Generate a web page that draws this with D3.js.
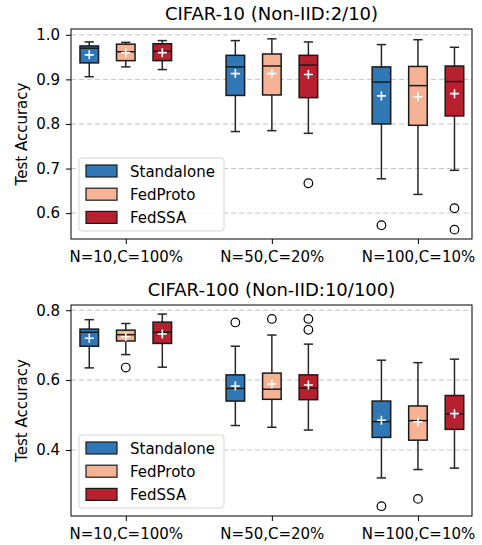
<!DOCTYPE html>
<html lang="en">
  <head>
    <meta charset="utf-8">
    <title>test accuracy boxplots</title>
    <script type="text/javascript" src="https://d3js.org/d3.v7.min.js"></script>
    <style>
      body { margin: 0; background: #fff; }
      text { font-family: "DejaVu Sans", sans-serif; fill: #000; }
      .title { font-size: 18px; }
      .ylabel { font-size: 15px; }
      .legend text { font-size: 15px; }
    </style>
  </head>
  <body>
    <svg id="chart"></svg>
    <script type="text/javascript">

    // DATA
    const groups = ['N=10,C=100%', 'N=50,C=20%', 'N=100,C=10%'];
    const methods = ['Standalone', 'FedProto', 'FedSSA'];
    const colors = ['#2f78b5', '#f6b295', '#b6202f'];

    // one row per method, one entry per group: [whiskerLow, q1, median, q3, whiskerHigh, mean]
    const c10Boxes = [
      [[0.906, 0.937, 0.970, 0.975, 0.984, 0.955], [0.783, 0.864, 0.928, 0.954, 0.987, 0.913], [0.677, 0.800, 0.894, 0.928, 0.978, 0.863]],
      [[0.928, 0.942, 0.962, 0.979, 0.983, 0.960], [0.785, 0.865, 0.930, 0.957, 0.991, 0.913], [0.642, 0.797, 0.886, 0.929, 0.989, 0.861]],
      [[0.922, 0.942, 0.963, 0.980, 0.987, 0.960], [0.779, 0.859, 0.932, 0.954, 0.984, 0.911], [0.696, 0.818, 0.895, 0.930, 0.972, 0.868]]
    ];
    const c10Outliers = [
      [[], [], [0.573]],
      [[], [], []],
      [[], [0.667], [0.611, 0.563]]
    ];

    const c100Boxes = [
      [[0.635, 0.697, 0.737, 0.746, 0.773, 0.720], [0.470, 0.540, 0.576, 0.615, 0.697, 0.583], [0.320, 0.436, 0.481, 0.540, 0.657, 0.485]],
      [[0.673, 0.712, 0.730, 0.743, 0.762, 0.724], [0.465, 0.545, 0.574, 0.620, 0.729, 0.589], [0.344, 0.428, 0.484, 0.526, 0.650, 0.481]],
      [[0.637, 0.705, 0.737, 0.766, 0.789, 0.732], [0.457, 0.544, 0.577, 0.615, 0.703, 0.586], [0.348, 0.459, 0.503, 0.556, 0.660, 0.504]]
    ];
    const c100Outliers = [
      [[], [0.765], [0.239]],
      [[0.636], [0.775], [0.260]],
      [[], [0.775, 0.744], []]
    ];

    const c10Ticks = [0.6, 0.7, 0.8, 0.9, 1.0];
    const c100Ticks = [0.4, 0.6, 0.8];


    // DIMENSIONS

    const width = 482, height = 545;
    const svg = d3.select('#chart').attr('width', width).attr('height', height);

    const plotX = {left: 71, right: 472};
    const offset = 0.25;   // method offset inside a group
    const boxW = 0.127;    // box width in group units

    const x = d3.scaleLinear().domain([-0.375, 2.37]).range([plotX.left, plotX.right]);


    function drawPanel(cfg) {
      const y = d3.scaleLinear().domain(cfg.ydomain).range([cfg.bottom, cfg.top]);
      const g = svg.append('g');

      // grid
      g.append('g').selectAll('line')
        .data(cfg.ticks)
        .join('line')
        .attr('x1', plotX.left).attr('x2', plotX.right)
        .attr('y1', d => y(d)).attr('y2', d => y(d))
        .attr('stroke', '#c4c4c4')
        .attr('stroke-width', 1)
        .attr('stroke-dasharray', '5,3');

      // flatten boxes
      const rows = [];
      cfg.boxes.forEach((row, m) => row.forEach((b, gi) => rows.push({
        m: m, gi: gi, lo: b[0], q1: b[1], med: b[2], q3: b[3], hi: b[4], mean: b[5],
        out: cfg.outliers[m][gi], cx: x(gi + (m - 1) * offset)
      })));
      const half = (x(boxW) - x(0)) / 2;

      const bx = g.append('g').selectAll('g').data(rows).join('g');

      // whiskers
      bx.append('line')
        .attr('x1', d => d.cx).attr('x2', d => d.cx)
        .attr('y1', d => y(d.hi)).attr('y2', d => y(d.q3));
      bx.append('line')
        .attr('x1', d => d.cx).attr('x2', d => d.cx)
        .attr('y1', d => y(d.q1)).attr('y2', d => y(d.lo));
      bx.append('line')
        .attr('x1', d => d.cx - half / 2).attr('x2', d => d.cx + half / 2)
        .attr('y1', d => y(d.hi)).attr('y2', d => y(d.hi));
      bx.append('line')
        .attr('x1', d => d.cx - half / 2).attr('x2', d => d.cx + half / 2)
        .attr('y1', d => y(d.lo)).attr('y2', d => y(d.lo));
      bx.selectAll('line')
        .attr('stroke', '#262626')
        .attr('stroke-width', 1.5);

      // box
      bx.append('rect')
        .attr('x', d => d.cx - half)
        .attr('width', half * 2)
        .attr('y', d => y(d.q3))
        .attr('height', d => y(d.q1) - y(d.q3))
        .attr('fill', d => colors[d.m])
        .attr('stroke', '#1a1a1a')
        .attr('stroke-width', 1.5);

      // median
      bx.append('line')
        .attr('x1', d => d.cx - half).attr('x2', d => d.cx + half)
        .attr('y1', d => y(d.med)).attr('y2', d => y(d.med))
        .attr('stroke', '#1a1a1a')
        .attr('stroke-width', 1.5);

      // mean marker
      bx.append('path')
        .attr('d', d => `M${d.cx - 4.5},${y(d.mean)}h9M${d.cx},${y(d.mean) - 4.5}v9`)
        .attr('stroke', '#fff')
        .attr('stroke-width', 1.6);

      // outliers
      bx.selectAll('circle')
        .data(d => d.out.map(v => ({cx: d.cx, v: v})))
        .join('circle')
        .attr('cx', d => d.cx)
        .attr('cy', d => y(d.v))
        .attr('r', 4.3)
        .attr('fill', 'none')
        .attr('stroke', '#000')
        .attr('stroke-width', 1.2);

      // frame
      g.append('rect')
        .attr('x', plotX.left).attr('y', cfg.top)
        .attr('width', plotX.right - plotX.left)
        .attr('height', cfg.bottom - cfg.top)
        .attr('fill', 'none')
        .attr('stroke', '#000')
        .attr('stroke-width', 1);

      // axes
      const xAxis = g.append('g')
        .attr('transform', `translate(0,${cfg.bottom})`)
        .call(d3.axisBottom(x).tickValues([0, 1, 2]).tickFormat(i => groups[i]).tickSize(5).tickPadding(7).tickSizeOuter(0));
      const yAxis = g.append('g')
        .attr('transform', `translate(${plotX.left},0)`)
        .call(d3.axisLeft(y).tickValues(cfg.ticks).tickFormat(d3.format('.1f')).tickSize(5).tickPadding(6).tickSizeOuter(0));
      [xAxis, yAxis].forEach(a => {
        a.attr('font-family', null).attr('font-size', null);
        a.select('.domain').remove();
        a.selectAll('.tick line').attr('stroke', '#000');
        a.selectAll('.tick text').attr('fill', '#000').style('font-size', '15px');
      });

      g.append('text')
        .attr('class', 'title')
        .attr('x', (plotX.left + plotX.right) / 2)
        .attr('y', cfg.top - 9.5)
        .attr('text-anchor', 'middle')
        .text(cfg.title);

      g.append('text')
        .attr('class', 'ylabel')
        .attr('transform', `translate(26.5,${(cfg.top + cfg.bottom) / 2}) rotate(-90)`)
        .attr('text-anchor', 'middle')
        .text('Test Accuracy');

      // legend
      const lg = g.append('g').attr('class', 'legend')
        .attr('transform', `translate(79,${cfg.bottom - 81})`);
      lg.append('rect')
        .attr('width', 145).attr('height', 73)
        .attr('rx', 3)
        .attr('fill', 'rgba(255,255,255,0.85)')
        .attr('stroke', '#d6d6d6');
      const items = lg.selectAll('g.item').data(methods).join('g')
        .attr('class', 'item')
        .attr('transform', (d, i) => `translate(0,${13 + i * 23.2})`);
      items.append('rect')
        .attr('x', 7).attr('y', -6)
        .attr('width', 31).attr('height', 12)
        .attr('fill', (d, i) => colors[i])
        .attr('stroke', '#1a1a1a')
        .attr('stroke-width', 1.2);
      items.append('text')
        .attr('x', 51).attr('y', 5.5)
        .text(d => d);
    }

    drawPanel({
      title: 'CIFAR-10 (Non-IID:2/10)',
      top: 29, bottom: 239,
      ydomain: [0.542, 1.013],
      ticks: c10Ticks,
      boxes: c10Boxes,
      outliers: c10Outliers
    });

    drawPanel({
      title: 'CIFAR-100 (Non-IID:10/100)',
      top: 305, bottom: 516,
      ydomain: [0.211, 0.815],
      ticks: c100Ticks,
      boxes: c100Boxes,
      outliers: c100Outliers
    });

    </script>
  </body>
</html>
